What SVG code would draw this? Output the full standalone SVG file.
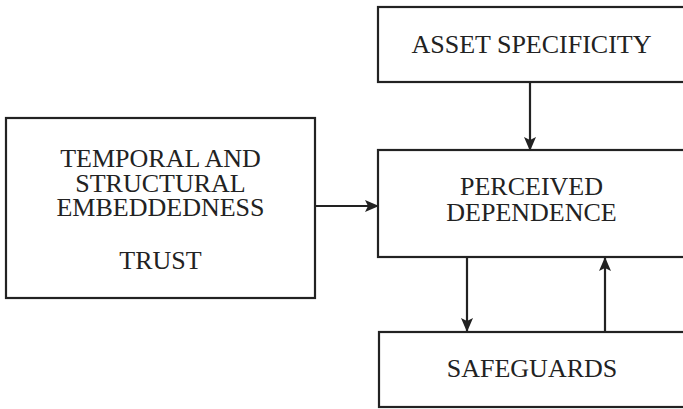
<svg xmlns="http://www.w3.org/2000/svg" width="683" height="409" viewBox="0 0 683 409">
  <style>
    .box { fill: #ffffff; stroke: #222222; stroke-width: 2.2; }
    .label { font-family: "Liberation Serif", "Times New Roman", serif; font-size: 26px; fill: #222222; text-anchor: middle; }
    .edge { fill: none; stroke: #222222; stroke-width: 2.2; }
  </style>
  <defs>
    <marker id="arrow" viewBox="0 0 14 12" refX="13" refY="6" markerWidth="14" markerHeight="12" markerUnits="userSpaceOnUse" orient="auto">
      <path d="M0,0 L14,6 L0,12 L3,6 Z" fill="#222222"/>
    </marker>
  </defs>
  <rect width="683" height="409" fill="#ffffff"/>

  <g id="embeddedness">
    <rect class="box" x="6" y="118" width="309" height="180"/>
    <text class="label" x="160.5" y="166.5">TEMPORAL AND</text>
    <text class="label" x="160.5" y="191.5">STRUCTURAL</text>
    <text class="label" x="160.5" y="216">EMBEDDEDNESS</text>
    <text class="label" x="160.5" y="269">TRUST</text>
  </g>

  <g id="asset-specificity">
    <rect class="box" x="378" y="7" width="308" height="75"/>
    <text class="label" x="531.5" y="53.3">ASSET SPECIFICITY</text>
  </g>

  <g id="perceived-dependence">
    <rect class="box" x="378" y="150" width="308" height="107"/>
    <text class="label" x="531.5" y="195">PERCEIVED</text>
    <text class="label" x="531.5" y="221">DEPENDENCE</text>
  </g>

  <g id="safeguards">
    <rect class="box" x="379" y="332" width="308" height="75"/>
    <text class="label" x="532" y="377.3">SAFEGUARDS</text>
  </g>

  <g id="connectors">
    <line class="edge" x1="530" y1="82" x2="530" y2="150" marker-end="url(#arrow)"/>
    <line class="edge" x1="315" y1="206" x2="378" y2="206" marker-end="url(#arrow)"/>
    <line class="edge" x1="467" y1="257" x2="467" y2="331" marker-end="url(#arrow)"/>
    <line class="edge" x1="605" y1="332" x2="605" y2="258" marker-end="url(#arrow)"/>
  </g>
</svg>
